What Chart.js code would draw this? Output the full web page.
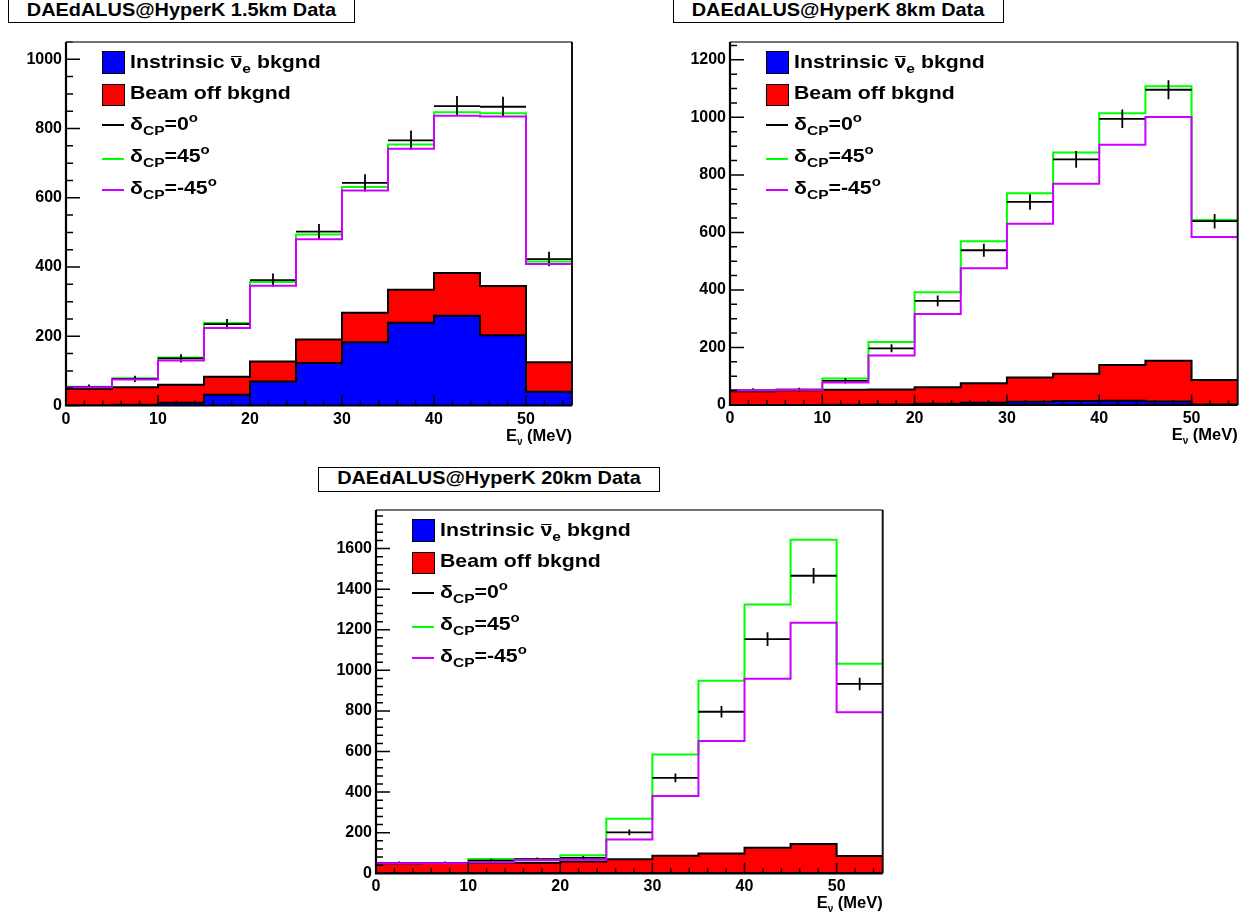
<!DOCTYPE html>
<html lang="en">
<head>
<meta charset="UTF-8">
<title>DAEdALUS@HyperK Data</title>
<script src="https://cdn.jsdelivr.net/npm/chart.js"></script>
<style>
    body { margin: 0; background: #fff; font-family: 'Liberation Sans', Arial, sans-serif; }
    #page { position: relative; width: 1252px; height: 916px; overflow: hidden; background: #fff; }
    .titleBox {
        position: absolute; box-sizing: border-box; border: 1.5px solid #000; background: #fff;
        text-align: center; font-weight: bold; font-size: 17.7px; white-space: nowrap;
    }
    .titleBox span { display: inline-block; transform: scaleX(1.125); transform-origin: 50% 50%; }
    .lgText {
        position: absolute; font-weight: bold; font-size: 18.5px; line-height: 18.5px;
        white-space: nowrap; transform: scaleX(1.15); transform-origin: 0 0;
    }
    .lgText sub { font-size: 13.5px; vertical-align: baseline; position: relative; top: 5px; }
    .lgText sup { font-size: 13px; vertical-align: baseline; position: relative; top: -8px; }
    .nubar { position: relative; }
    .nubar::before {
        content: ''; position: absolute; left: 1px; right: 1px; top: 5px;
        border-top: 1.5px solid #000;
    }
    .lgBox { position: absolute; box-sizing: border-box; border: 1.5px solid #000; width: 22.5px; height: 22.5px; }
    .lgLine { position: absolute; width: 21.5px; height: 2px; }
    .axTitle {
        position: absolute; font-weight: bold; font-size: 16.5px; line-height: 16.5px; white-space: nowrap;
    }
    .axTitle sub { font-size: 10px; vertical-align: baseline; position: relative; top: 4px; }
</style>
</head>
<body>
<div id="page"></div>

<script>
    // bins: 5 MeV wide, 0-55 MeV
    const binLow = [0, 5, 10, 15, 20, 25, 30, 35, 40, 45, 50];
    const binWidth = 5;
    const xMax = 55;

    // beam-off background (same for every baseline)
    const beamOffBkg = [48, 51, 52, 52, 58, 68, 85, 95, 124, 142, 85];

    // 1.5 km
    const intrinsic1p5 = [0, 2, 8, 31, 69, 123, 183, 239, 259, 203, 40];
    const cp0_1p5 = [54, 77, 136, 235, 362, 502, 643, 766, 865, 863, 423];
    const cp0Err1p5 = [7, 9, 12, 15, 19, 22, 25, 28, 29, 29, 21];
    const cp45_1p5 = [54, 79, 139, 238, 357, 494, 631, 754, 847, 844, 416];
    const cpm45_1p5 = [53, 75, 130, 224, 346, 480, 621, 742, 837, 835, 409];

    // 8 km
    const intrinsic8 = [0, 0, 1, 2, 4, 8, 11, 14, 15, 12, 2];
    const cp0_8 = [51, 53, 84, 197, 362, 538, 706, 854, 995, 1096, 639];
    const cp0Err8 = [7, 7, 9, 14, 19, 23, 27, 29, 32, 33, 25];
    const cp45_8 = [51, 53, 92, 219, 392, 569, 736, 878, 1014, 1108, 643];
    const cpm45_8 = [51, 53, 78, 172, 316, 475, 630, 769, 905, 1001, 584];

    // 20 km
    const intrinsic20 = [0, 0, 0, 0, 0, 1, 1, 2, 2, 2, 0];
    const cp0_20 = [51, 51, 62, 70, 76, 202, 470, 796, 1154, 1466, 933];
    const cp0Err20 = [7, 7, 8, 8, 9, 14, 22, 28, 34, 38, 31];
    const cp45_20 = [51, 51, 71, 71, 89, 269, 585, 949, 1325, 1644, 1033];
    const cpm45_20 = [50, 50, 54, 66, 67, 167, 381, 652, 959, 1235, 793];

    const legendRows = [
        { kind: 'box', color: '#0000ff', html: 'Instrinsic <span class="nubar">ν</span><sub>e</sub> bkgnd' },
        { kind: 'box', color: '#ff0000', html: 'Beam off bkgnd' },
        { kind: 'line', color: '#000000', html: 'δ<sub>CP</sub>=0<sup>o</sup>' },
        { kind: 'line', color: '#00ff00', html: 'δ<sub>CP</sub>=45<sup>o</sup>' },
        { kind: 'line', color: '#cc00ff', html: 'δ<sub>CP</sub>=-45<sup>o</sup>' }
    ];

    const panels = [
        { title: 'DAEdALUS@HyperK 1.5km Data', area: { l: 66, t: 42, r: 572, b: 405.5 },
          box: { l: 8, t: -2, w: 347, h: 25 }, yMax: 1050, yMinor: 50,
          intrinsic: intrinsic1p5, cp0: cp0_1p5, cp0Err: cp0Err1p5, cp45: cp45_1p5, cpm45: cpm45_1p5 },
        { title: 'DAEdALUS@HyperK 8km Data', area: { l: 730, t: 42, r: 1237.7, b: 405 },
          box: { l: 673, t: -2, w: 331, h: 25 }, yMax: 1262, yMinor: 50,
          intrinsic: intrinsic8, cp0: cp0_8, cp0Err: cp0Err8, cp45: cp45_8, cpm45: cpm45_8 },
        { title: 'DAEdALUS@HyperK 20km Data', area: { l: 376, t: 510, r: 882.7, b: 873.3 },
          box: { l: 318, t: 467.3, w: 342, h: 24.4 }, yMax: 1790, yMinor: 40,
          intrinsic: intrinsic20, cp0: cp0_20, cp0Err: cp0Err20, cp45: cp45_20, cpm45: cpm45_20 }
    ];

    const page = document.getElementById('page');
    const tickFont = { family: "'Liberation Sans', Arial, sans-serif", size: 16, weight: 'bold' };

    // histogram outline as step points at the bin edges
    const stepPoints = (vals) => {
        const pts = binLow.map((x, i) => ({ x: x, y: vals[i] }));
        pts.push({ x: xMax, y: vals[vals.length - 1] });
        return pts;
    };
    const barPoints = (vals) => {
        const pts = [];
        binLow.forEach((x, i) => {
            pts.push({ x: x, y: vals[i] }, { x: x + binWidth, y: vals[i] }, { x: x + binWidth, y: null });
        });
        return pts;
    };
    const errPoints = (vals, errs) => {
        const pts = [];
        binLow.forEach((x, i) => {
            const xc = x + binWidth / 2;
            pts.push({ x: xc, y: vals[i] - errs[i] }, { x: xc, y: vals[i] + errs[i] }, { x: xc, y: null });
        });
        return pts;
    };
    const majorTicks = (max, step) => {
        const t = [];
        for (let v = 0; v <= max; v += step) t.push({ value: v });
        return t;
    };

    // ROOT style frame, ticks drawn inside the frame
    const rootFrame = {
        id: 'rootFrame',
        afterDatasetsDraw(chart, args, opts) {
            const { ctx, chartArea: a } = chart;
            const x = chart.scales.x, y = chart.scales.y;
            ctx.save();
            ctx.strokeStyle = '#000';
            ctx.lineWidth = 1.5;
            ctx.beginPath();
            for (let v = 0; v <= x.max; v += 2) {
                const px = x.getPixelForValue(v);
                const len = v % 10 === 0 ? 10.5 : 5;
                ctx.moveTo(px, a.bottom);
                ctx.lineTo(px, a.bottom - len);
            }
            for (let v = 0; v <= y.max; v += opts.yMinor) {
                const py = y.getPixelForValue(v);
                const len = v % 200 === 0 ? 14 : 7;
                ctx.moveTo(a.left, py);
                ctx.lineTo(a.left + len, py);
            }
            ctx.stroke();

            ctx.lineWidth = 1.5;
            ctx.strokeStyle = '#444';
            ctx.beginPath();
            ctx.moveTo(a.left, a.top);
            ctx.lineTo(a.right, a.top);
            ctx.stroke();
            ctx.lineWidth = 2;
            ctx.strokeStyle = '#111';
            ctx.beginPath();
            ctx.moveTo(a.right, a.top);
            ctx.lineTo(a.right, a.bottom);
            ctx.stroke();
            ctx.lineWidth = 2.2;
            ctx.strokeStyle = '#000';
            ctx.beginPath();
            ctx.moveTo(a.left, a.top);
            ctx.lineTo(a.left, a.bottom);
            ctx.lineTo(a.right, a.bottom);
            ctx.stroke();
            ctx.restore();
        }
    };

    const addDiv = (cls, left, top, html) => {
        const d = document.createElement('div');
        d.className = cls;
        d.style.left = left + 'px';
        d.style.top = top + 'px';
        if (html) d.innerHTML = html;
        page.appendChild(d);
        return d;
    };

    const makePanel = (p) => {
        const a = p.area;
        const cx = Math.floor(a.l) - 70, cy = Math.floor(a.t) - 14;
        const cw = Math.ceil(a.r) + 14 - cx, ch = Math.ceil(a.b) + 32 - cy;
        const yAxisW = a.l - cx, padTop = a.t - cy, padRight = cx + cw - a.r, xAxisH = cy + ch - a.b;

        const canvas = document.createElement('canvas');
        canvas.width = cw;
        canvas.height = ch;
        canvas.style.position = 'absolute';
        canvas.style.left = cx + 'px';
        canvas.style.top = cy + 'px';
        page.appendChild(canvas);

        const total = beamOffBkg.map((v, i) => v + p.intrinsic[i]);
        const common = { pointRadius: 0, pointHoverRadius: 0, tension: 0, spanGaps: false, borderJoinStyle: 'miter' };

        new Chart(canvas, {
            type: 'line',
            data: {
                datasets: [
                    { ...common, label: 'Beam off bkgnd', data: stepPoints(total), stepped: 'before',
                      borderColor: '#000', borderWidth: 2, backgroundColor: '#ff0000', fill: 'origin', order: 9 },
                    { ...common, label: 'Instrinsic bkgnd', data: stepPoints(p.intrinsic), stepped: 'before',
                      borderColor: '#000', borderWidth: 2, backgroundColor: '#0000ff', fill: 'origin', order: 8 },
                    { ...common, label: 'dCP=45', data: stepPoints(p.cp45), stepped: 'before',
                      borderColor: '#00ff00', borderWidth: 2, fill: false, order: 3 },
                    { ...common, label: 'dCP=0', data: barPoints(p.cp0),
                      borderColor: '#000', borderWidth: 1.8, fill: false, order: 2 },
                    { ...common, label: 'dCP=0 err', data: errPoints(p.cp0, p.cp0Err),
                      borderColor: '#000', borderWidth: 1.8, fill: false, order: 2 },
                    { ...common, label: 'dCP=-45', data: stepPoints(p.cpm45), stepped: 'before',
                      borderColor: '#cc00ff', borderWidth: 2, fill: false, order: 1 }
                ]
            },
            options: {
                responsive: false,
                animation: false,
                events: [],
                layout: { padding: { left: 0, top: padTop, right: padRight, bottom: 0 } },
                scales: {
                    x: {
                        type: 'linear', min: 0, max: xMax,
                        ticks: { font: tickFont, color: '#000', padding: 4, maxRotation: 0, autoSkip: false,
                                 callback: (v) => String(v) },
                        grid: { display: false, drawTicks: false },
                        border: { display: false },
                        afterBuildTicks: (s) => { s.ticks = majorTicks(xMax, 10); },
                        afterFit: (s) => { s.height = xAxisH; }
                    },
                    y: {
                        type: 'linear', min: 0, max: p.yMax,
                        ticks: { font: tickFont, color: '#000', padding: 4, autoSkip: false,
                                 callback: (v) => String(v) },
                        grid: { display: false, drawTicks: false },
                        border: { display: false },
                        afterBuildTicks: (s) => { s.ticks = majorTicks(p.yMax, 200); },
                        afterFit: (s) => { s.width = yAxisW; }
                    }
                },
                plugins: {
                    legend: { display: false },
                    tooltip: { enabled: false },
                    rootFrame: { yMinor: p.yMinor }
                }
            },
            plugins: [rootFrame]
        });

        // title box
        const tb = addDiv('titleBox', p.box.l, p.box.t, '<span>' + p.title + '</span>');
        tb.style.width = p.box.w + 'px';
        tb.style.height = p.box.h + 'px';
        tb.style.lineHeight = (p.box.h - 3) + 'px';

        // legend inside the frame
        const baselines = [26.3, 57.5, 89, 120.8, 152.3];
        const boxTops = [9, 41.5];
        const lineYs = [83, 116.5, 148];
        legendRows.forEach((row, i) => {
            if (row.kind === 'box') {
                const b = addDiv('lgBox', a.l + 36.3, a.t + boxTops[i]);
                b.style.background = row.color;
            } else {
                const ln = addDiv('lgLine', a.l + 36.3, a.t + lineYs[i - 2] - 1);
                ln.style.background = row.color;
            }
            addDiv('lgText', a.l + 64, a.t + baselines[i] - 15.66, row.html);
        });

        // x axis title, right aligned to the frame
        const t = addDiv('axTitle', 0, a.b + 21, 'E<sub>ν</sub> (MeV)');
        t.style.left = '';
        t.style.right = (1252 - a.r) + 'px';
    };

    panels.forEach(makePanel);
</script>
</body>
</html>
